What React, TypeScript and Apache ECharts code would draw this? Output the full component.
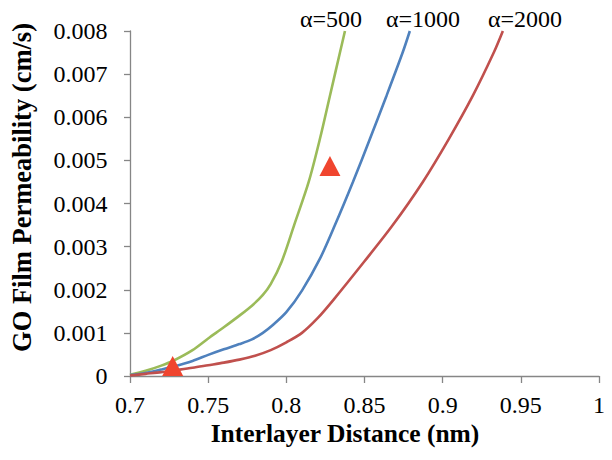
import React, { useEffect, useRef } from "react";
import * as echarts from "echarts";

const xTicks = { min: 0.7, max: 1, interval: 0.05 };
const yTicks = { min: 0, max: 0.008, interval: 0.001 };
const xTickLabels = ["0.7", "0.75", "0.8", "0.85", "0.9", "0.95", "1"];
const yTickLabels = ["0", "0.001", "0.002", "0.003", "0.004", "0.005", "0.006", "0.007", "0.008"];

const alpha500: [number, number][] = [
  [0.7, 0.00003], [0.71, 0.00012], [0.72, 0.00024], [0.728, 0.00036],
  [0.74, 0.0006], [0.75, 0.00087], [0.76, 0.00113], [0.77, 0.0014],
  [0.778, 0.00163], [0.785, 0.00188], [0.79, 0.00213], [0.797, 0.00265],
  [0.805, 0.0035], [0.8143, 0.0045], [0.8215, 0.0055], [0.8279, 0.0065],
  [0.8343, 0.0075], [0.8375, 0.008],
];

const alpha1000: [number, number][] = [
  [0.7, 0.00002], [0.71, 0.00007], [0.72, 0.00015], [0.728, 0.00022],
  [0.74, 0.00035], [0.75, 0.00049], [0.76, 0.00062], [0.77, 0.00074],
  [0.778, 0.00085], [0.785, 0.001], [0.791, 0.00117], [0.8, 0.00148],
  [0.81, 0.00198], [0.8215, 0.00272], [0.8311, 0.0035], [0.8426, 0.0045],
  [0.8535, 0.0055], [0.8641, 0.0065], [0.8744, 0.0075], [0.879, 0.008],
];

const alpha2000: [number, number][] = [
  [0.7, 0.00001], [0.71, 0.00005], [0.72, 0.00009], [0.728, 0.00013],
  [0.74, 0.00019], [0.75, 0.00025], [0.76, 0.00031], [0.77, 0.00038],
  [0.78, 0.00047], [0.79, 0.0006], [0.8, 0.00078], [0.81, 0.001],
  [0.82, 0.00134], [0.83, 0.00176], [0.85, 0.00266], [0.8681, 0.0035],
  [0.8873, 0.0045], [0.904, 0.0055], [0.9193, 0.0065], [0.9327, 0.0075],
  [0.9385, 0.008],
];

const measured: [number, number][] = [
  [0.7273, 0.00023],
  [0.8279, 0.00487],
];

const curveLabels = ["α=500", "α=1000", "α=2000"];
const colors = ["#9BBB59", "#4F81BD", "#C0504D"];

const FONT = "Liberation Serif";

export default function App() {
  const ref = useRef<HTMLDivElement>(null);
  useEffect(() => {
    if (!ref.current) return;
    const chart = echarts.init(ref.current, undefined, { renderer: "svg" });
    const lineSeries = [alpha500, alpha1000, alpha2000].map((d, i) => ({
      type: "line",
      name: curveLabels[i],
      data: d,
      showSymbol: false,
      smooth: 0.3,
      lineStyle: { color: colors[i], width: 2.6 },
      itemStyle: { color: colors[i] },
      z: 2,
    }));
    const xTickData = xTickLabels.map((t) => ({ value: [parseFloat(t), yTicks.min], name: t }));
    const yTickData = yTickLabels.map((t) => ({ value: [xTicks.min, parseFloat(t)], name: t }));
    const tickText = { fontFamily: FONT, fontSize: 24, color: "#000000", opacity: 1 };
    const labelX = [331, 423, 525];
    chart.setOption({
      animation: false,
      backgroundColor: "#ffffff",
      textStyle: { fontFamily: FONT },
      grid: { left: 130, right: 13, top: 31, bottom: 84, containLabel: false },
      xAxis: {
        type: "value",
        min: xTicks.min,
        max: xTicks.max,
        interval: xTicks.interval,
        name: "Interlayer Distance (nm)",
        nameLocation: "middle",
        nameGap: 44,
        nameTextStyle: {
          fontFamily: FONT,
          fontWeight: "bold",
          fontSize: 25.5,
          color: "#000",
          padding: [0, 39, 0, 0],
        },
        axisLine: { lineStyle: { color: "#868686", width: 1.3 } },
        axisTick: { show: true, inside: false, length: 7, lineStyle: { color: "#868686", width: 1.3 } },
        axisLabel: { show: false },
        splitLine: { show: false },
      },
      yAxis: {
        type: "value",
        min: yTicks.min,
        max: yTicks.max,
        interval: yTicks.interval,
        name: "GO Film Permeability (cm/s)",
        nameLocation: "middle",
        nameGap: 95,
        nameTextStyle: {
          fontFamily: FONT,
          fontWeight: "bold",
          fontSize: 26.5,
          color: "#000",
          padding: [0, 0, 0, 32],
        },
        axisLine: { show: true, lineStyle: { color: "#868686", width: 1.3 } },
        axisTick: { show: true, inside: false, length: 6, lineStyle: { color: "#868686", width: 1.3 } },
        axisLabel: { show: false },
        splitLine: { show: false },
      },
      series: [
        ...lineSeries,
        {
          type: "scatter",
          name: "measured",
          data: measured,
          symbol: "triangle",
          symbolSize: [21, 20],
          itemStyle: { color: "#F0452F", opacity: 1 },
          z: 5,
        },
        {
          type: "scatter",
          name: "xTickLabels",
          data: xTickData,
          symbol: "circle",
          symbolSize: 1,
          clip: false,
          silent: true,
          itemStyle: { color: "rgba(255,255,255,0)", opacity: 1 },
          label: {
            show: true,
            position: "bottom",
            distance: 16,
            formatter: (p: any) => p.name,
            ...tickText,
          },
          z: 1,
        },
        {
          type: "scatter",
          name: "yTickLabels",
          data: yTickData,
          symbol: "circle",
          symbolSize: 1,
          clip: false,
          silent: true,
          itemStyle: { color: "rgba(255,255,255,0)", opacity: 1 },
          label: {
            show: true,
            position: "left",
            distance: 22,
            formatter: (p: any) => p.name,
            ...tickText,
          },
          z: 1,
        },
      ],
      graphic: curveLabels.map((t, i) => ({
        type: "text",
        x: labelX[i],
        y: 19,
        style: {
          text: t,
          fontFamily: FONT,
          fontSize: 24,
          fill: "#000",
          align: "center",
          verticalAlign: "middle",
        },
      })),
    });
    return () => chart.dispose();
  }, []);
  return <div ref={ref} style={{ width: 612, height: 460, margin: -8 }} />;
}
